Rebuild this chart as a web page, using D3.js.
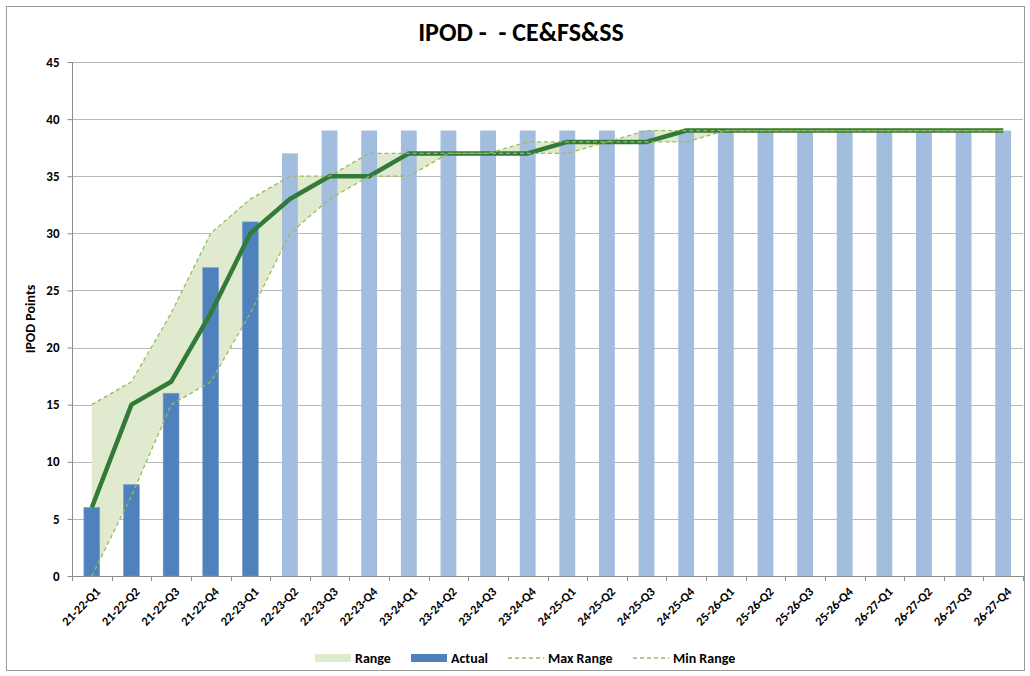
<!DOCTYPE html>
<html>
<head>
<meta charset="utf-8">
<script src="https://cdn.jsdelivr.net/npm/d3@7"></script>
<style>
  html, body { margin: 0; padding: 0; background: #fff; }
  svg { display: block; font-family: Carlito, Lato, "Open Sans", sans-serif; }
</style>
</head>
<body>
<svg id="chart" width="1030" height="676"></svg>
<script>
const categories = ["21-22-Q1","21-22-Q2","21-22-Q3","21-22-Q4","22-23-Q1","22-23-Q2","22-23-Q3","22-23-Q4",
  "23-24-Q1","23-24-Q2","23-24-Q3","23-24-Q4","24-25-Q1","24-25-Q2","24-25-Q3","24-25-Q4",
  "25-26-Q1","25-26-Q2","25-26-Q3","25-26-Q4","26-27-Q1","26-27-Q2","26-27-Q3","26-27-Q4"];
const actual = [6, 8, 16, 27, 31, null, null, null, null, null, null, null, null, null, null, null, null, null, null, null, null, null, null, null];
const forecast = [null, null, null, null, null, 37, 39, 39, 39, 39, 39, 39, 39, 39, 39, 39, 39, 39, 39, 39, 39, 39, 39, 39];
const trajectory = [6, 15, 17, 23, 30, 33, 35, 35, 37, 37, 37, 37, 38, 38, 38, 39, 39, 39, 39, 39, 39, 39, 39, 39];
const maxRange = [15, 17, 23, 30, 33, 35, 35, 37, 37, 37, 37, 38, 38, 38, 39, 39, 39, 39, 39, 39, 39, 39, 39, 39];
const minRange = [0, 7, 15, 17, 23, 30, 33, 35, 35, 37, 37, 37, 37, 38, 38, 38, 39, 39, 39, 39, 39, 39, 39, 39];
const yTicks = [0, 5, 10, 15, 20, 25, 30, 35, 40, 45];
const legendLabels = ["Range", "Actual", "Max Range", "Min Range"];
const title = "IPOD -  - CE&FS&SS";
const yTitle = "IPOD Points";

const svg = d3.select("#chart");
const L = 72, R = 1023, T = 62, B = 576;
const FONT = "Carlito, Lato, 'Open Sans', sans-serif";

const x = d3.scaleBand().domain(categories).range([L, R]).padding(0);
const y = d3.scaleLinear().domain([0, 45]).range([B, T]);
const cx = c => x(c) + x.bandwidth() / 2;
const barW = x.bandwidth() / 2.5;

// border
svg.append("rect").attr("x", 6.5).attr("y", 6.5).attr("width", 1018).attr("height", 664)
  .attr("fill", "#fff").attr("stroke", "#9a9a9a").attr("stroke-width", 1);

// title
svg.append("text").attr("x", 521).attr("y", 41).attr("text-anchor", "middle")
  .style("white-space", "pre").attr("font-size", 26).attr("font-weight", "bold").attr("fill", "#000")
  .text(title);

// gridlines
svg.append("g").selectAll("line").data(yTicks.filter(d => d > 0)).join("line")
  .attr("x1", L).attr("x2", R).attr("y1", d => Math.round(y(d)) + 0.5).attr("y2", d => Math.round(y(d)) + 0.5)
  .attr("stroke", "#b8b8b8").attr("stroke-width", 1);

const idx = d3.range(categories.length);

// range area
const area = d3.area().x(i => cx(categories[i])).y0(i => y(minRange[i])).y1(i => y(maxRange[i]));
svg.append("path").datum(idx).attr("d", area).attr("fill", "#e0eacf");

// bars
svg.append("g").selectAll("rect").data(idx.filter(i => forecast[i] != null)).join("rect")
  .attr("x", i => cx(categories[i]) - barW / 2).attr("width", barW)
  .attr("y", i => y(forecast[i])).attr("height", i => y(0) - y(forecast[i]))
  .attr("fill", "#a3bddf");
svg.append("g").selectAll("rect").data(idx.filter(i => actual[i] != null)).join("rect")
  .attr("x", i => cx(categories[i]) - barW / 2).attr("width", barW)
  .attr("y", i => y(actual[i])).attr("height", i => y(0) - y(actual[i]))
  .attr("fill", "#4f81bd").attr("stroke", "#7a9fcf").attr("stroke-width", 0.6);

// trajectory
const line = arr => d3.line().x(i => cx(categories[i])).y(i => y(arr[i]));
svg.append("path").datum(idx).attr("d", line(trajectory)).attr("fill", "none")
  .attr("stroke", "#317a38").attr("stroke-width", 4.5).attr("stroke-linejoin", "round");

// dashed lines
[maxRange, minRange].forEach(arr => {
  svg.append("path").datum(idx).attr("d", line(arr)).attr("fill", "none")
    .attr("stroke", "#9bbb59").attr("stroke-width", 1.3).attr("stroke-dasharray", "4,3");
});

// y axis
const yAxis = svg.append("g").attr("transform", `translate(${L + 0.5},0)`)
  .call(d3.axisLeft(y).tickValues(yTicks).tickSize(5).tickPadding(8));
yAxis.select(".domain").attr("stroke", "#8c8c8c").attr("d", `M-0,${T}V${B}`);
yAxis.selectAll(".tick line").attr("stroke", "#8c8c8c");
yAxis.selectAll("text").attr("font-size", 13).attr("font-weight", "bold").attr("fill", "#000")
  .attr("font-family", FONT);

// x axis
const xAxis = svg.append("g").attr("transform", `translate(0,${B + 0.5})`)
  .call(d3.axisBottom(x).tickSize(0).tickPadding(0));
xAxis.select(".domain").attr("stroke", "#8c8c8c").attr("d", `M${L},0H${R}`);
svg.append("g").selectAll("line").data(d3.range(categories.length + 1)).join("line")
  .attr("x1", i => Math.round(L + i * x.bandwidth()) + 0.5).attr("x2", i => Math.round(L + i * x.bandwidth()) + 0.5)
  .attr("y1", B).attr("y2", B + 5).attr("stroke", "#8c8c8c");
xAxis.selectAll(".tick text")
  .attr("font-size", 12.5).attr("font-weight", "bold").attr("fill", "#000")
  .attr("font-family", FONT)
  .attr("text-anchor", "end").attr("dy", "0.35em")
  .attr("transform", "translate(6,13) rotate(-45)");

// y title
svg.append("text").attr("transform", `translate(35,319) rotate(-90)`).attr("text-anchor", "middle")
  .attr("font-size", 14).attr("font-weight", "bold").text(yTitle);

// legend
const lg = svg.append("g").attr("font-size", 14).attr("font-weight", "bold");
const legendItems = [
  { x: 315, type: "rect", color: "#e0eacf" },
  { x: 411, type: "rect", color: "#4f81bd" },
  { x: 508, type: "dash", color: "#9bbb59" },
  { x: 633, type: "dash", color: "#9bbb59" }
];
legendItems.forEach((it, k) => {
  if (it.type === "rect") {
    lg.append("rect").attr("x", it.x).attr("y", 654).attr("width", 36).attr("height", 8).attr("fill", it.color);
  } else {
    lg.append("line").attr("x1", it.x).attr("x2", it.x + 36).attr("y1", 658).attr("y2", 658)
      .attr("stroke", it.color).attr("stroke-width", 1.3).attr("stroke-dasharray", "4,3");
  }
  lg.append("text").attr("x", it.x + 40).attr("y", 663).text(legendLabels[k]);
});
</script>
</body>
</html>
